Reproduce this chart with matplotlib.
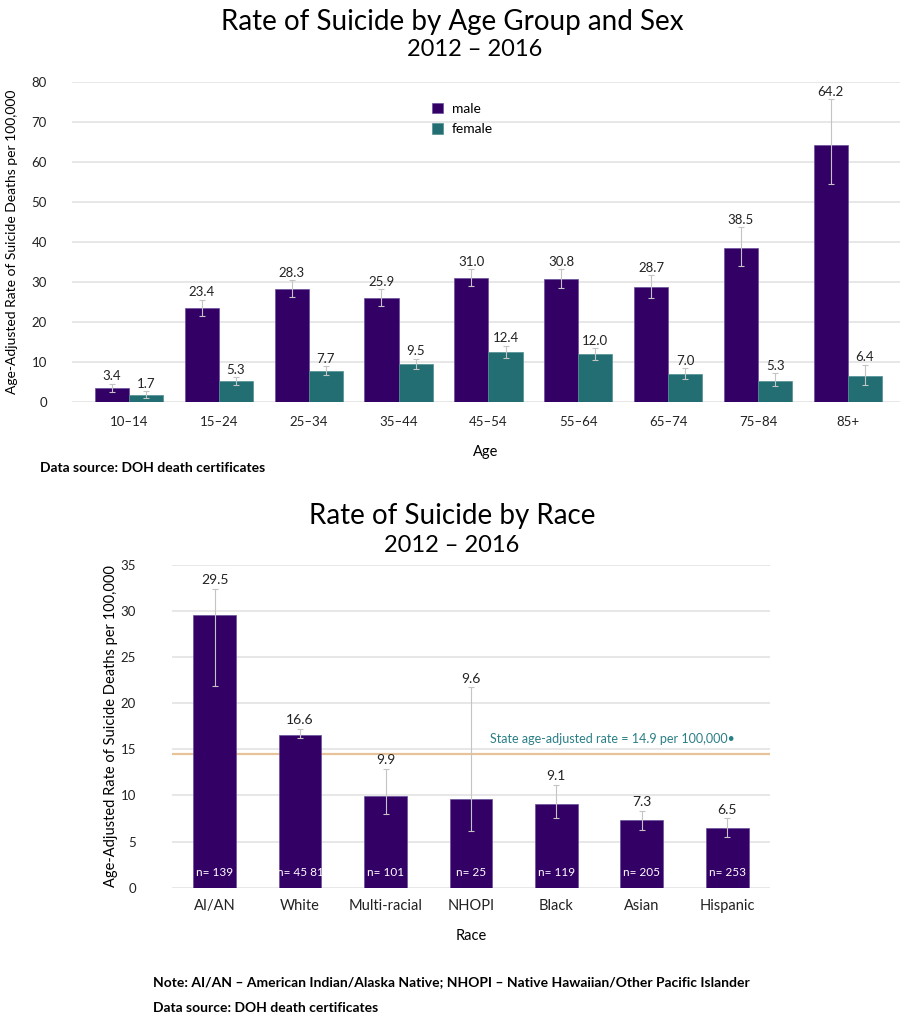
import matplotlib
matplotlib.use("Agg")
import matplotlib.pyplot as plt
import numpy as np

plt.rcParams['font.family'] = ['Lato', 'DejaVu Sans']

# --- age / sex data ---
ages = ['10–14', '15–24', '25–34', '35–44', '45–54', '55–64', '65–74', '75–84', '85+']
male = [3.4, 23.4, 28.3, 25.9, 31.0, 30.8, 28.7, 38.5, 64.2]
female = [1.7, 5.3, 7.7, 9.5, 12.4, 12.0, 7.0, 5.3, 6.4]
male_lo = [2.5, 21.6, 26.3, 24.1, 28.9, 28.5, 26.0, 33.9, 54.6]
male_hi = [4.6, 25.6, 30.5, 28.2, 33.2, 33.2, 31.7, 43.7, 75.7]
female_lo = [1.0, 4.3, 6.75, 8.25, 11.0, 10.6, 5.75, 3.9, 4.3]
female_hi = [2.65, 6.25, 8.9, 10.8, 14.1, 13.5, 8.5, 7.25, 9.3]

# --- race data ---
races = ['AI/AN', 'White', 'Multi-racial', 'NHOPI', 'Black', 'Asian', 'Hispanic']
race_rate = [29.5, 16.6, 9.9, 9.6, 9.1, 7.3, 6.5]
race_lo = [21.9, 16.2, 8.0, 6.1, 7.6, 6.2, 5.5]
race_hi = [32.4, 17.2, 12.9, 21.7, 11.1, 8.3, 7.5]
race_n = ['139', '45 81', '101', '25', '119', '205', '253']
state_line = 14.5

purple = "#330066"
teal = "#226e72"
grid_c = "#e3e3e3"
err_c = "#c4c4c4"
W, H = 903, 1024


def px_axes(fig, left, top, right, bottom):
    return fig.add_axes([left / W, 1 - bottom / H, (right - left) / W, (bottom - top) / H])


def style(ax):
    for s in ax.spines.values():
        s.set_visible(False)
    ax.yaxis.grid(True, color=grid_c, linewidth=1.2)
    ax.set_axisbelow(True)
    ax.tick_params(length=0, labelsize=9.5, colors='#222222')


fig = plt.figure(figsize=(W / 100, H / 100), dpi=100)
fig.patch.set_facecolor('white')

# ---------------- top chart ----------------
ax = px_axes(fig, 72, 82, 900, 402)
style(ax)
x = np.arange(len(ages))
bw = 0.38
m = np.array(male)
f = np.array(female)
ax.bar(x - bw / 2, m, bw, color=purple, edgecolor='#6a4f9a', linewidth=0.5, label='male')
ax.bar(x + bw / 2, f, bw, color=teal, edgecolor='#4f8f92', linewidth=0.5, label='female')
ax.errorbar(x - bw / 2, m, yerr=[m - np.array(male_lo), np.array(male_hi) - m],
            fmt='none', ecolor=err_c, elinewidth=0.8, capsize=2.5, capthick=0.8)
ax.errorbar(x + bw / 2, f, yerr=[f - np.array(female_lo), np.array(female_hi) - f],
            fmt='none', ecolor=err_c, elinewidth=0.8, capsize=2.5, capthick=0.8)
for i in range(len(ages)):
    ax.annotate(f"{male[i]:.1f}", (x[i] - bw / 2, male_hi[i]), xytext=(0, 1),
                textcoords='offset points', ha='center', va='bottom', fontsize=9.5, color='#222222')
    ax.annotate(f"{female[i]:.1f}", (x[i] + bw / 2, female_hi[i]), xytext=(0, 1),
                textcoords='offset points', ha='center', va='bottom', fontsize=9.5, color='#222222')
ax.set_ylim(0, 80)
ax.set_yticks(range(0, 81, 10))
ax.set_xlim(-0.634, 8.58)
ax.set_xticks(x)
ax.set_xticklabels(ages)
ax.tick_params(axis='x', pad=10)
ax.tick_params(axis='y', pad=18)
ax.set_xlabel('Age', fontsize=10.5, labelpad=12)
ax.set_ylabel('Age-Adjusted Rate of Suicide Deaths per 100,000', fontsize=10, labelpad=10)
ax.legend(loc='upper left', bbox_to_anchor=(0.42, 0.975), frameon=False, fontsize=10,
          handlelength=0.8, handleheight=0.8, labelspacing=0.6, handletextpad=0.6)

fig.text(452 / W, 1 - 22 / H, 'Rate of Suicide by Age Group and Sex', ha='center', va='center', fontsize=20)
fig.text(475 / W, 1 - 50 / H, '2012 – 2016', ha='center', va='center', fontsize=17)
fig.text(40 / W, 1 - 468 / H, 'Data source: DOH death certificates', ha='left', va='center',
         fontsize=10, fontweight='bold')

# ---------------- bottom chart ----------------
ax2 = px_axes(fig, 172, 564.7, 770, 887.7)
style(ax2)
xr = np.arange(len(races))
r = np.array(race_rate)
ax2.axhline(state_line, color='#e8c39a', linewidth=1.6, zorder=1.5)
ax2.bar(xr, r, 0.5, color=purple, edgecolor='#6a4f9a', linewidth=0.5, zorder=2)
ax2.errorbar(xr, r, yerr=[r - np.array(race_lo), np.array(race_hi) - r],
             fmt='none', ecolor=err_c, elinewidth=0.8, capsize=2.5, capthick=0.8, zorder=3)
for i in range(len(races)):
    ax2.annotate(f"{race_rate[i]:.1f}", (xr[i], race_hi[i]), xytext=(0, 2),
                 textcoords='offset points', ha='center', va='bottom', fontsize=10, color='#222222')
    ax2.text(xr[i], 1.6, 'n= ' + race_n[i], ha='center', va='center', fontsize=8.5, color='white', zorder=4)
ax2.text(4.65, 16.1, 'State age-adjusted rate = 14.9 per 100,000•', ha='center', va='center',
         fontsize=9, color='#2a7f86')
ax2.set_ylim(0, 35)
ax2.set_yticks(range(0, 36, 5))
ax2.set_xlim(-0.5, 6.5)
ax2.set_xticks(xr)
ax2.set_xticklabels(races, fontsize=10.5)
ax2.tick_params(axis='x', pad=8)
ax2.tick_params(axis='y', pad=26)
ax2.set_xlabel('Race', fontsize=10.5, labelpad=12)
ax2.set_ylabel('Age-Adjusted Rate of Suicide Deaths per 100,000', fontsize=10.5, labelpad=2)

fig.text(452 / W, 1 - 516 / H, 'Rate of Suicide by Race', ha='center', va='center', fontsize=20)
fig.text(452 / W, 1 - 545 / H, '2012 – 2016', ha='center', va='center', fontsize=17)
fig.text(153 / W, 1 - 982 / H,
         'Note: AI/AN – American Indian/Alaska Native; NHOPI – Native Hawaiian/Other Pacific Islander',
         ha='left', va='center', fontsize=10, fontweight='bold')
fig.text(153 / W, 1 - 1008 / H, 'Data source: DOH death certificates', ha='left', va='center',
         fontsize=10, fontweight='bold')

fig.savefig('out.png', dpi=100)
